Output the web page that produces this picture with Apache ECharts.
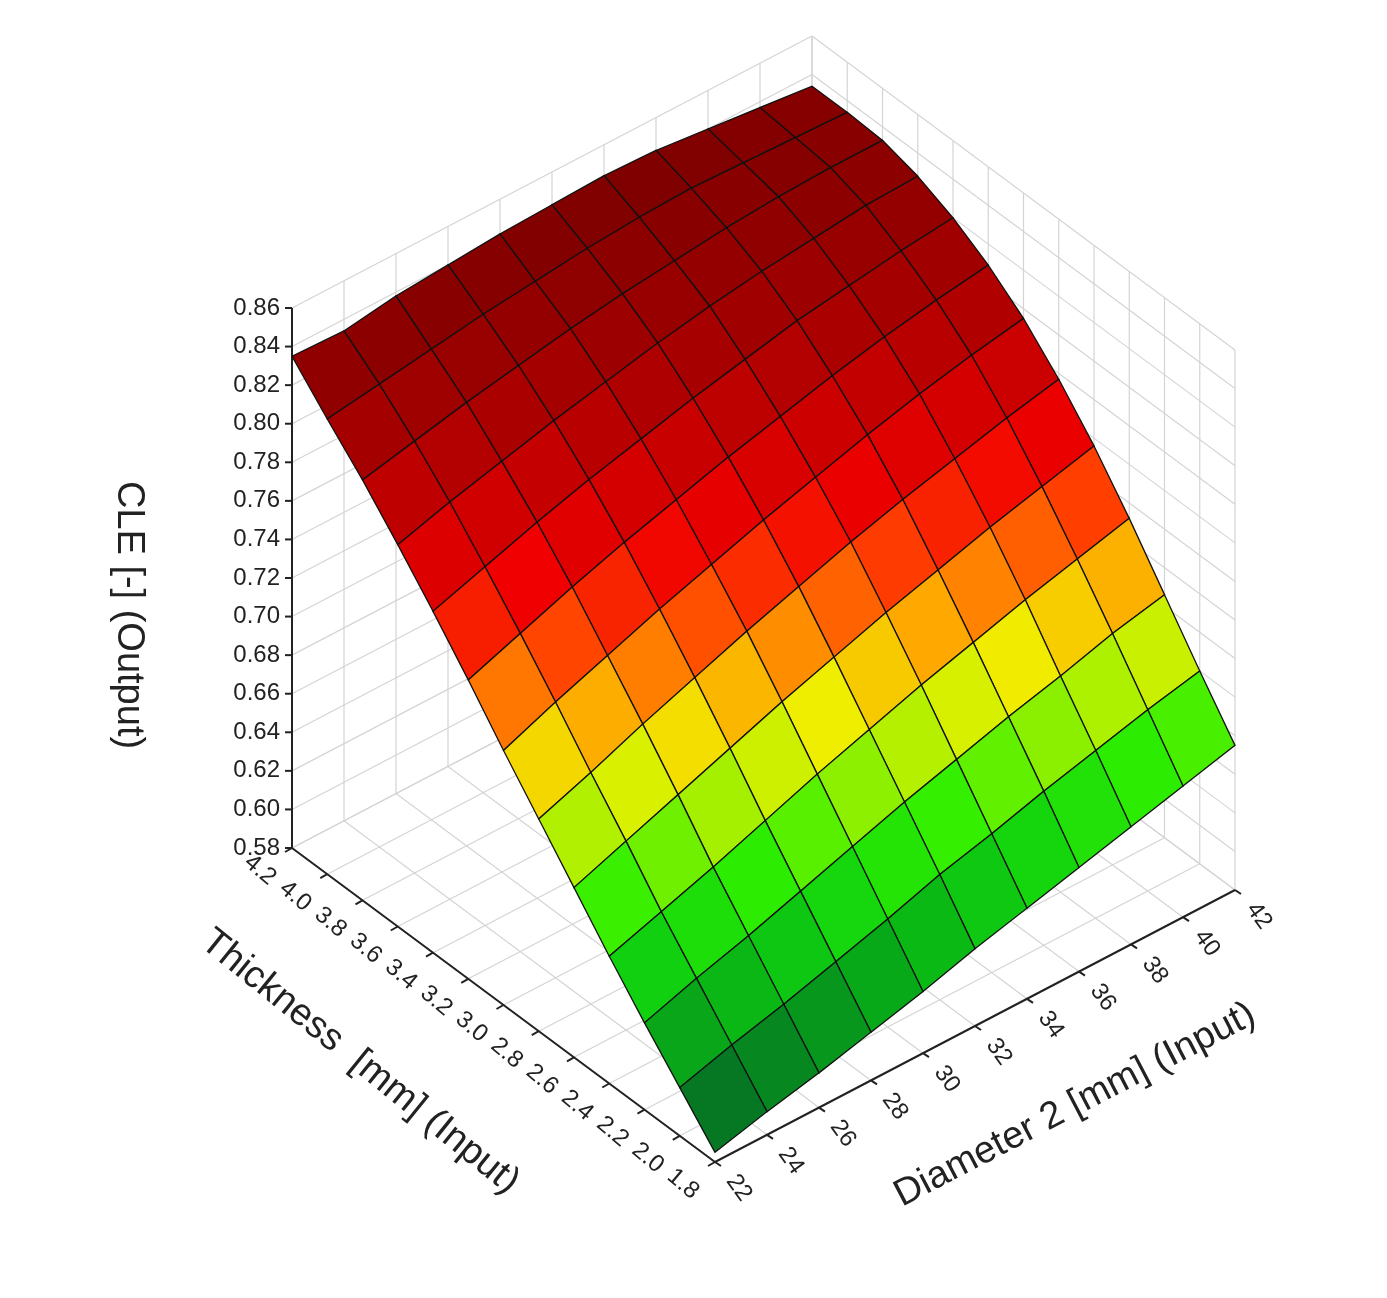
<!DOCTYPE html>
<html>
<head>
<meta charset="utf-8">
<script src="https://cdn.jsdelivr.net/npm/echarts@6/dist/echarts.min.js"></script>
<style>html,body{margin:0;background:#fff}#main{width:1387px;height:1298px}</style>
</head>
<body>
<div id="main"></div>
<script>
// surface data: rows = thickness, columns = diameter 2
const thickness = [1.8, 2.0, 2.2, 2.4, 2.6, 2.8, 3.0, 3.2, 3.4, 3.6, 3.8, 4.0, 4.2];
const diameter = [22, 24, 26, 28, 30, 32, 34, 36, 38, 40, 42];
const cle = [
  [0.585, 0.592, 0.598, 0.605, 0.612, 0.620, 0.627, 0.634, 0.641, 0.648, 0.655],
  [0.605, 0.613, 0.620, 0.628, 0.636, 0.645, 0.652, 0.660, 0.667, 0.674, 0.680],
  [0.625, 0.634, 0.642, 0.651, 0.660, 0.669, 0.677, 0.685, 0.692, 0.700, 0.706],
  [0.646, 0.655, 0.664, 0.674, 0.684, 0.693, 0.702, 0.710, 0.718, 0.725, 0.732],
  [0.668, 0.678, 0.688, 0.698, 0.708, 0.717, 0.726, 0.734, 0.742, 0.749, 0.756],
  [0.690, 0.700, 0.711, 0.721, 0.731, 0.740, 0.749, 0.757, 0.764, 0.771, 0.777],
  [0.712, 0.723, 0.733, 0.743, 0.752, 0.761, 0.769, 0.777, 0.784, 0.790, 0.795],
  [0.735, 0.745, 0.755, 0.764, 0.772, 0.780, 0.787, 0.794, 0.800, 0.805, 0.809],
  [0.757, 0.766, 0.775, 0.783, 0.790, 0.797, 0.803, 0.809, 0.813, 0.817, 0.820],
  [0.778, 0.786, 0.793, 0.800, 0.806, 0.812, 0.817, 0.821, 0.824, 0.827, 0.828],
  [0.798, 0.804, 0.810, 0.815, 0.820, 0.824, 0.827, 0.830, 0.832, 0.833, 0.833],
  [0.816, 0.820, 0.824, 0.828, 0.831, 0.834, 0.836, 0.837, 0.836, 0.835, 0.834],
  [0.835, 0.834, 0.838, 0.840, 0.842, 0.843, 0.844, 0.843, 0.840, 0.837, 0.834]
];
const zTicks = [0.58, 0.60, 0.62, 0.64, 0.66, 0.68, 0.70, 0.72, 0.74, 0.76, 0.78, 0.80, 0.82, 0.84, 0.86];
const tTicks = [1.8, 2.0, 2.2, 2.4, 2.6, 2.8, 3.0, 3.2, 3.4, 3.6, 3.8, 4.0, 4.2];
const dTicks = [22, 24, 26, 28, 30, 32, 34, 36, 38, 40, 42];

// projection of (thickness, diameter, cle) onto the page
function P(t, d, z) {
  const u = (4.2 - t) / 2.4, v = (d - 22) / 20, w = (z - 0.58) / 0.28;
  return [292 + 423 * u + 520 * v, 848 + 314 * u - 272 * v - 540 * w];
}

const chart = echarts.init(document.getElementById('main'));
const font = 'Liberation Sans, Arial, sans-serif';

// surface cells, back to front
const cells = [];
for (let i = 0; i < thickness.length - 1; i++) {
  for (let j = 0; j < diameter.length - 1; j++) {
    const avg = (cle[i][j] + cle[i + 1][j] + cle[i][j + 1] + cle[i + 1][j + 1]) / 4;
    cells.push([i, j, avg, i + j]);
  }
}
cells.sort((a, b) => b[3] - a[3]);

// frame segments: walls and floor grid
const segs = [];
const z0 = 0.58, z1 = 0.86;
zTicks.forEach(z => {
  segs.push([...P(4.2, 22, z), ...P(4.2, 42, z), 0]);
  segs.push([...P(4.2, 42, z), ...P(1.8, 42, z), 0]);
});
dTicks.forEach(d => {
  segs.push([...P(4.2, d, z0), ...P(4.2, d, z1), 0]);
  segs.push([...P(4.2, d, z0), ...P(1.8, d, z0), 0]);
});
tTicks.forEach(t => {
  segs.push([...P(t, 42, z0), ...P(t, 42, z1), 0]);
  segs.push([...P(t, 22, z0), ...P(t, 42, z0), 0]);
});
segs.push([...P(4.2, 22, z0), ...P(1.8, 22, z0), 1]);
segs.push([...P(1.8, 22, z0), ...P(1.8, 42, z0), 1]);
segs.push([...P(4.2, 22, z0), ...P(4.2, 22, z1), 1]);
zTicks.forEach(z => segs.push([...P(4.2, 22, z), P(4.2, 22, z)[0] - 7, P(4.2, 22, z)[1], 1]));
tTicks.forEach(t => { const p = P(t, 22, z0); segs.push([...p, p[0] - 7, p[1] + 4, 1]); });
dTicks.forEach(d => { const p = P(1.8, d, z0); segs.push([...p, p[0] + 6, p[1] + 4, 1]); });

// tick labels
const labels = [];
zTicks.forEach(z => { const p = P(4.2, 22, z); labels.push([p[0] - 12, p[1], z.toFixed(2), 0, 'right']); });
tTicks.forEach(t => { const p = P(t, 22, z0); labels.push([p[0] - 32, p[1] + 22, t.toFixed(1), -0.7, 'center']); });
dTicks.forEach(d => { const p = P(1.8, d, z0); labels.push([p[0] + 24, p[1] + 26, String(d), -0.95, 'center']); });

chart.setOption({
  animation: false,
  grid: { left: 0, right: 0, top: 0, bottom: 0 },
  xAxis: { type: 'value', min: 0, max: 1387, show: false },
  yAxis: { type: 'value', min: 0, max: 1298, inverse: true, show: false },
  visualMap: {
    show: false, seriesIndex: 2, dimension: 2, min: 0.58, max: 0.86,
    inRange: { color: ['#0a5a2c', '#067a22', '#08a818', '#10d010', '#30f000', '#a0f000', '#f0f000',
      '#ffa000', '#ff4000', '#f00000', '#d00000', '#b00000', '#980000', '#800000', '#700000'] }
  },
  series: [
    {
      type: 'custom', data: segs, silent: true,
      renderItem: (params, api) => {
        const a = api.coord([api.value(0), api.value(1)]);
        const b = api.coord([api.value(2), api.value(3)]);
        const axis = api.value(4) === 1;
        return { type: 'line', shape: { x1: a[0], y1: a[1], x2: b[0], y2: b[1] },
          style: { stroke: axis ? '#222' : '#d4d4d4', lineWidth: axis ? 2 : 1.2 } };
      }
    },
    {
      type: 'custom', data: labels, silent: true,
      renderItem: (params, api) => {
        const a = api.coord([api.value(0), api.value(1)]);
        const it = labels[params.dataIndex];
        return { type: 'text', x: a[0], y: a[1], rotation: it[3],
          style: { text: it[2], fill: '#222', font: '24px ' + font, align: it[4], verticalAlign: 'middle' } };
      }
    },
    {
      type: 'custom', data: cells, silent: true,
      renderItem: (params, api) => {
        const i = api.value(0), j = api.value(1);
        const pts = [[i, j], [i + 1, j], [i + 1, j + 1], [i, j + 1]].map(([a, b]) =>
          api.coord(P(thickness[a], diameter[b], cle[a][b])));
        return { type: 'polygon', shape: { points: pts },
          style: { fill: api.visual('color'), stroke: '#111', lineWidth: 1.3 } };
      }
    }
  ],
  graphic: [
    { type: 'text', x: 128, y: 615, rotation: -Math.PI / 2,
      style: { text: 'CLE [-] (Output)', font: '38px ' + font, fill: '#222', align: 'center', verticalAlign: 'middle' } },
    { type: 'text', x: 360, y: 1062, rotation: -0.68,
      style: { text: 'Thickness  [mm] (Input)', font: '38px ' + font, fill: '#222', align: 'center', verticalAlign: 'middle' } },
    { type: 'text', x: 1075, y: 1105, rotation: 0.48,
      style: { text: 'Diameter 2 [mm] (Input)', font: '38px ' + font, fill: '#222', align: 'center', verticalAlign: 'middle' } }
  ]
});
</script>
</body>
</html>
